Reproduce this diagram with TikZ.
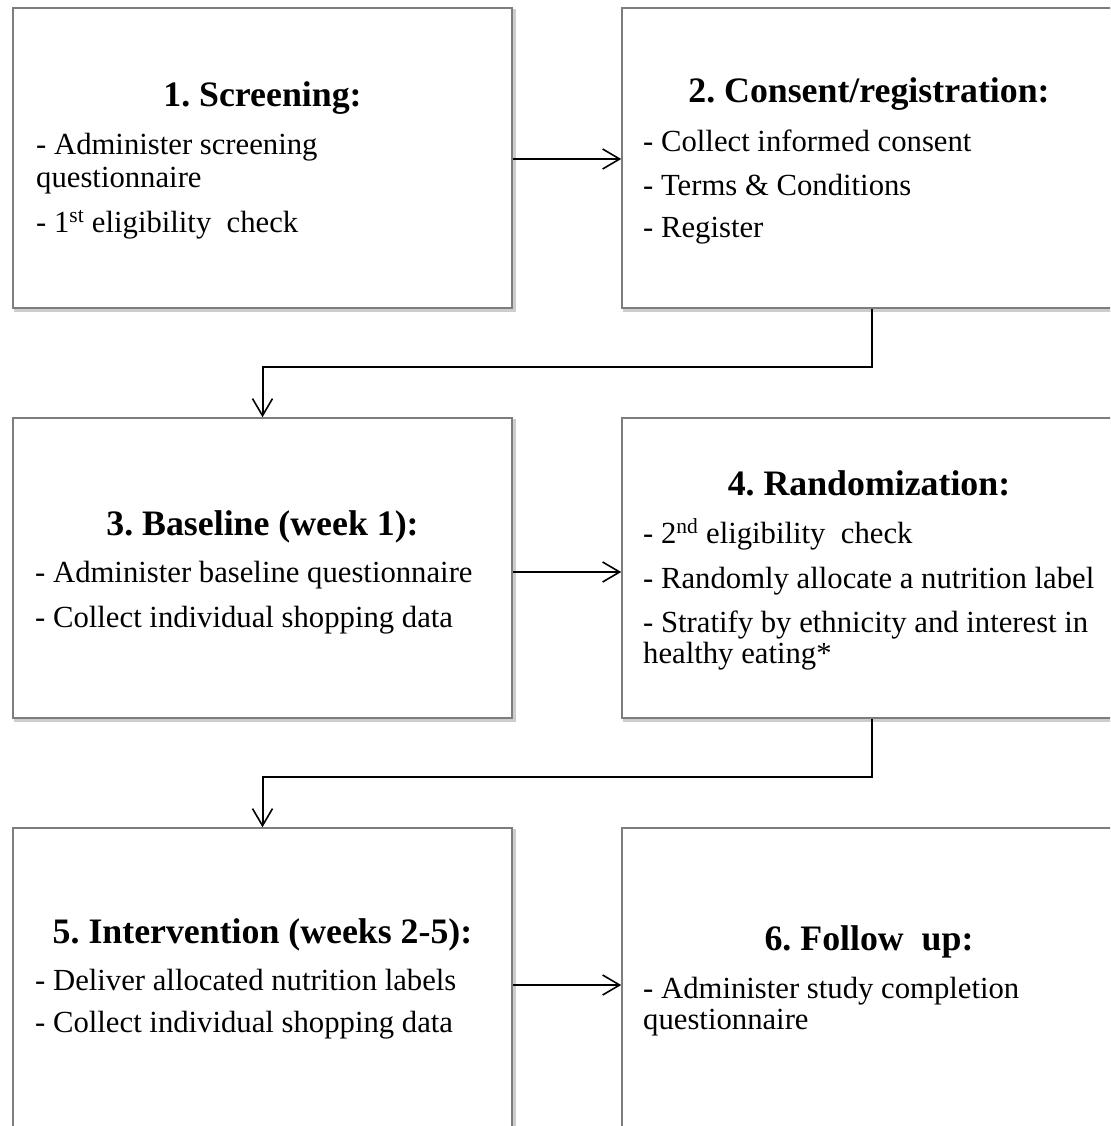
\documentclass[tikz,border=0pt]{standalone}
\usepackage{fontspec}
\setmainfont{Liberation Serif}
\usetikzlibrary{arrows.meta}
\begin{document}
\frenchspacing
\begin{tikzpicture}[x=1pt,y=-1pt,
  boxshape/.style={draw={rgb,255:red,125;green,125;blue,125}, line width=1.6pt, fill=white, inner sep=0pt,
    minimum width=499pt, minimum height=300pt},
  shadowshape/.style={draw={rgb,255:red,205;green,205;blue,205}, line width=2.5pt, inner sep=0pt,
    minimum width=499pt, minimum height=300pt},
  ttl/.style={anchor=base, inner sep=0pt, font=\fontsize{35.8}{40}\selectfont\bfseries},
  bodyline/.style={anchor=base west, inner sep=0pt, font=\fontsize{30.7}{33}\selectfont},
  conn/.style={draw=black, line width=2pt},
  arr/.style={conn, -{Straight Barb[length=17pt,width=20pt,line width=1.6pt]}}
]
\useasboundingbox (0,0) rectangle (1110,1126);
\fill[white] (0,0) rectangle (1110,1126);
\clip (0,0) rectangle (1110,1126);
% shadows
\node[shadowshape] at (265,160.5) {};
\node[shadowshape] at (874,160.5) {};
\node[shadowshape] at (265,570.5) {};
\node[shadowshape] at (874,570.5) {};
\node[shadowshape, minimum height=302pt] at (265,981.5) {};
\node[shadowshape, minimum height=302pt] at (874,981.5) {};
% boxes
\node[boxshape] (b1) at (262.5,158) {};
\node[boxshape] (b2) at (871.5,158) {};
\node[boxshape] (b3) at (262.5,568) {};
\node[boxshape] (b4) at (871.5,568) {};
\node[boxshape, minimum height=302pt] (b5) at (262.5,979) {};
\node[boxshape, minimum height=302pt] (b6) at (871.5,979) {};
% box 1
\node[ttl] (t1) at (262.5,107) {1. Screening:};
\node[bodyline] (l11) at (36,155) {- Administer screening};
\node[bodyline] (l12) at (36,188) {questionnaire};
\node[bodyline] (l13) at (36,232) {- 1\textsuperscript{st} eligibility\ \ check};
% box 2
\node[ttl] (t2) at (869,103) {2. Consent/registration:};
\node[bodyline] (l21) at (643,152) {- Collect informed consent};
\node[bodyline] (l22) at (643,195) {- Terms \& Conditions};
\node[bodyline] (l23) at (643,237) {- Register};
% box 3
\node[ttl] (t3) at (262.5,535) {3. Baseline (week 1):};
\node[bodyline] (l31) at (35,582) {- Administer baseline questionnaire};
\node[bodyline] (l32) at (35,627) {- Collect individual shopping data};
% box 4
\node[ttl] (t4) at (869,495) {4. Randomization:};
\node[bodyline] (l41) at (643,543) {- 2\textsuperscript{nd} eligibility\ \ check};
\node[bodyline] (l42) at (643,588) {- Randomly allocate a nutrition label};
\node[bodyline] (l43) at (643,632) {- Stratify by ethnicity and interest in};
\node[bodyline] (l44) at (643,663) {healthy eating*};
% box 5
\node[ttl] (t5) at (262.5,943) {5. Intervention (weeks 2-5):};
\node[bodyline] (l51) at (35,990) {- Deliver allocated nutrition labels};
\node[bodyline] (l52) at (35,1032) {- Collect individual shopping data};
% box 6
\node[ttl] (t6) at (869,950) {6. Follow\ \ up:};
\node[bodyline] (l61) at (643,998) {- Administer study completion};
\node[bodyline] (l62) at (643,1029) {questionnaire};
% connectors
\coordinate (j1) at (0,367);
\coordinate (j2) at (0,777);
\draw[arr] ([yshift=-1pt]b1.east) -- ([yshift=-1pt]b2.west);
\draw[arr] (b2.south) -- (b2.south |- j1) -- (b3.north |- j1) -- (b3.north);
\draw[arr] ([yshift=-4pt]b3.east) -- ([yshift=-4pt]b4.west);
\draw[arr] (b4.south) -- (b4.south |- j2) -- (b5.north |- j2) -- (b5.north);
\draw[arr] ([yshift=-6pt]b5.east) -- ([yshift=-6pt]b6.west);
\end{tikzpicture}
\end{document}
